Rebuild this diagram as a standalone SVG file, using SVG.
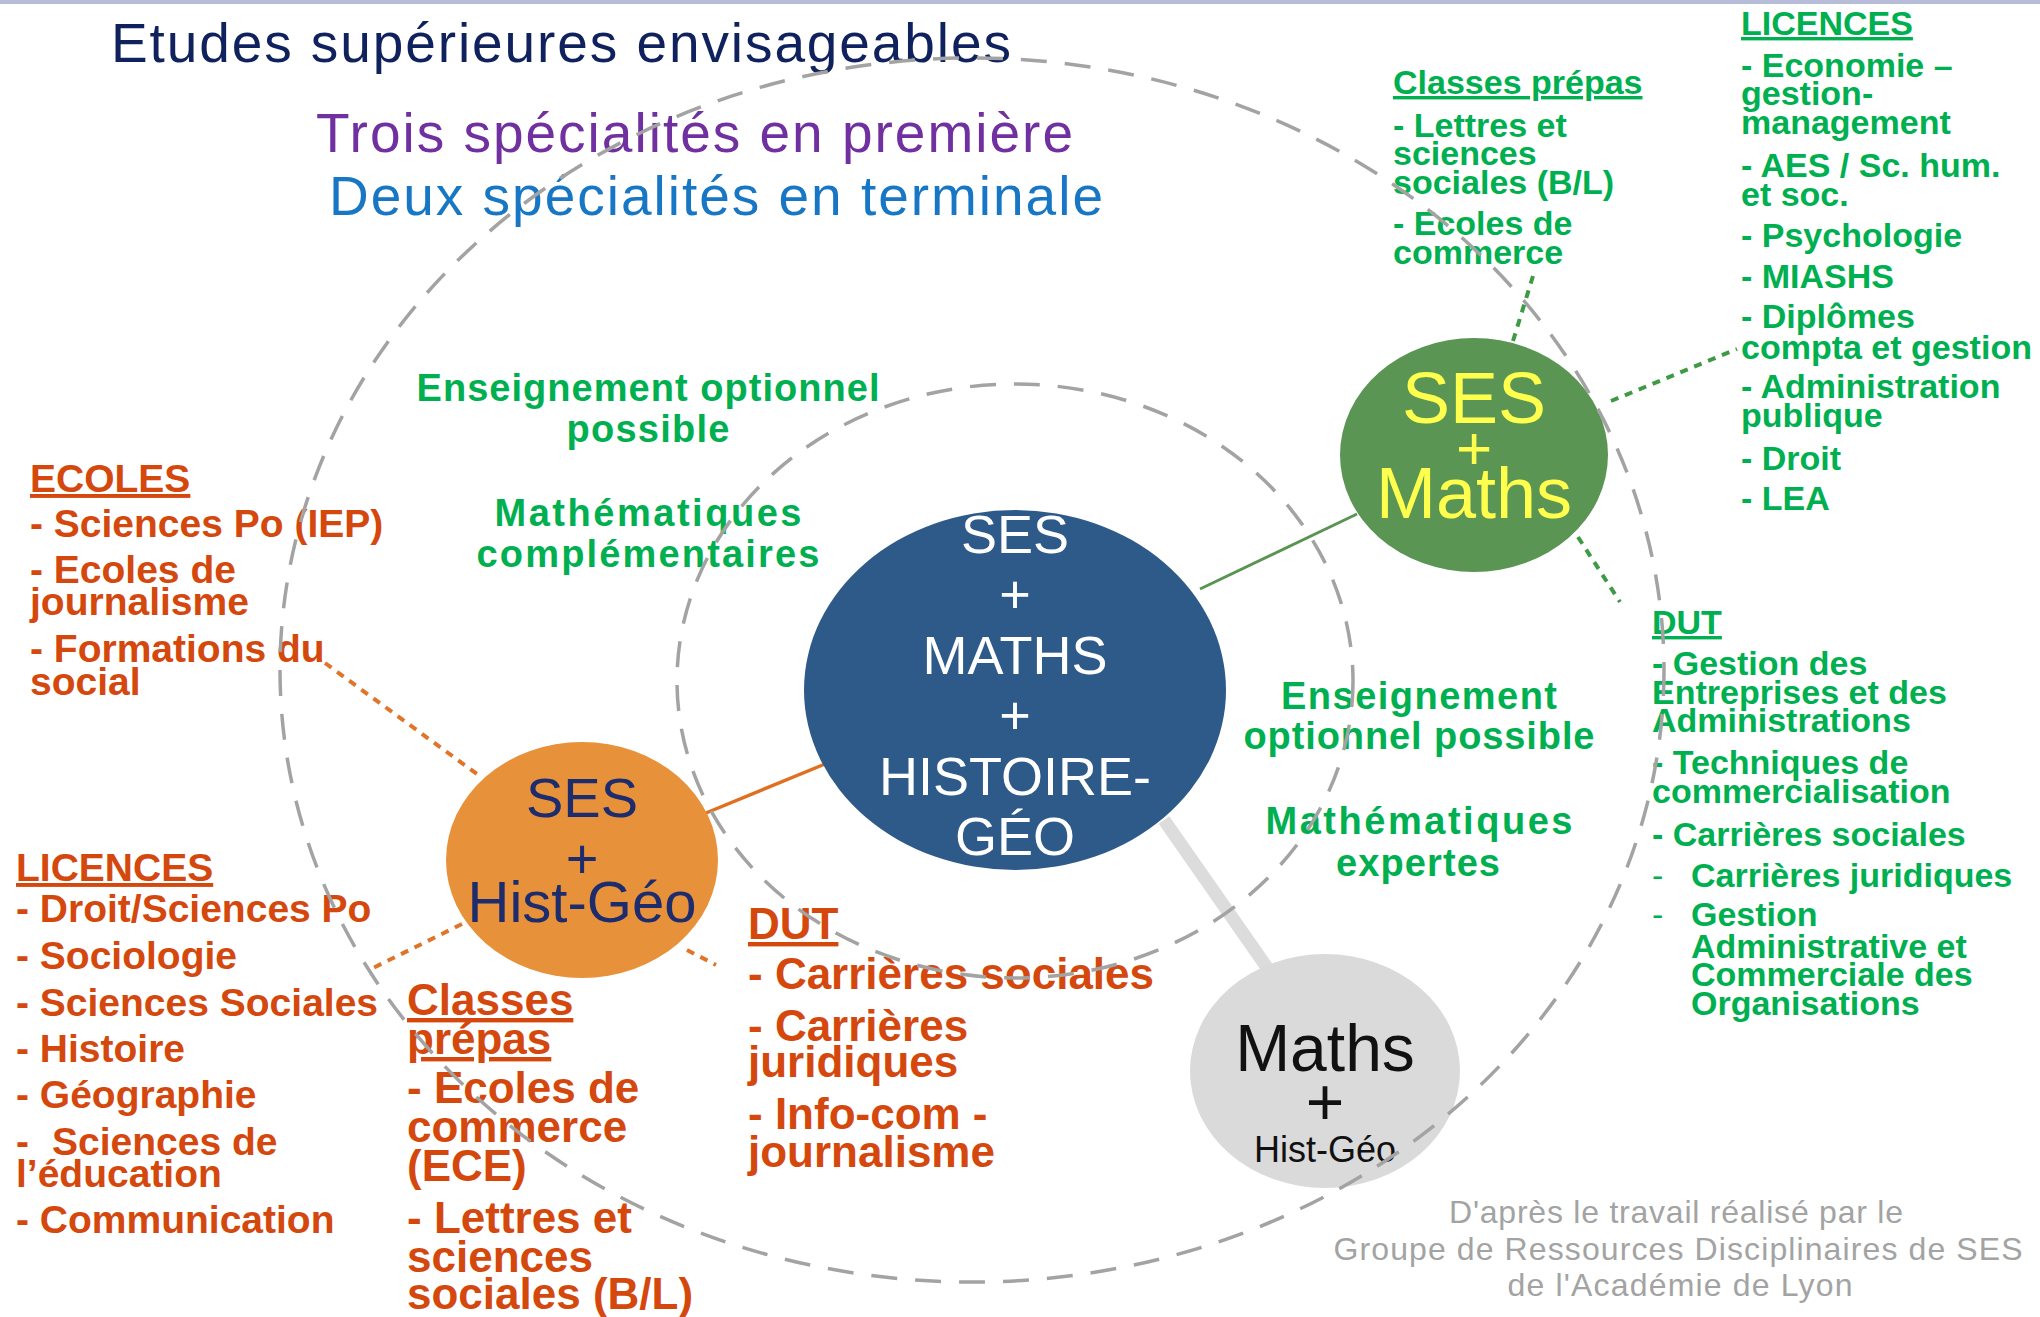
<svg xmlns="http://www.w3.org/2000/svg" width="2040" height="1317" viewBox="0 0 2040 1317">
<style>
text{font-family:"Liberation Sans",Arial,sans-serif}
.gl{font-weight:bold;font-size:34px;fill:#00b050}
.gc{font-weight:bold;font-size:38px;fill:#00b050;text-anchor:middle}
.ol{font-weight:bold;font-size:39px;fill:#d4480e}
.ob{font-weight:bold;font-size:44px;fill:#d4480e}
.u{text-decoration:underline}
.ft{font-size:32px;fill:#a3a3a3;text-anchor:middle}
.nd{text-anchor:middle}
.dash{fill:none;stroke:#a3a3a3;stroke-width:3.5;stroke-dasharray:26 18}
.dotg{stroke:#3f9a45;stroke-width:4;stroke-dasharray:8 7;fill:none}
.doto{stroke:#e0742a;stroke-width:4;stroke-dasharray:8 7;fill:none}
</style>
<rect x="0" y="0" width="2040" height="4" fill="#b7bcd8"/>

<g id="titles">
<text x="111" y="62" font-size="55" fill="#10225e" textLength="900">Etudes supérieures envisageables</text>
<text x="316" y="152" font-size="55" fill="#7030a0" textLength="757">Trois spécialités en première</text>
<text x="329" y="215" font-size="55" fill="#1877c4" textLength="774">Deux spécialités en terminale</text>
</g>

<g id="connectors">
<line x1="1200" y1="589" x2="1357" y2="514" stroke="#5a9452" stroke-width="3"/>
<line x1="825" y1="764" x2="706" y2="813" stroke="#e07020" stroke-width="3.5"/>
<line x1="1164" y1="820" x2="1268" y2="969" stroke="#dcdcdc" stroke-width="13"/>
<line class="dotg" x1="1513" y1="341" x2="1533" y2="276"/>
<line class="dotg" x1="1611" y1="401" x2="1737" y2="349"/>
<line class="dotg" x1="1578" y1="537" x2="1620" y2="602"/>
<line class="doto" x1="325" y1="663" x2="481" y2="777"/>
<line class="doto" x1="462" y1="924" x2="371" y2="969"/>
<line class="doto" x1="687" y1="950" x2="716" y2="965"/>
</g>

<g id="node-ses-maths-hg">
<ellipse cx="1015" cy="690" rx="211" ry="180" fill="#2e5a8a"/>
<text class="nd" x="1015" font-size="54" fill="#ffffff"><tspan x="1015" y="553">SES</tspan><tspan x="1015" y="613">+</tspan><tspan x="1015" y="674">MATHS</tspan><tspan x="1015" y="734">+</tspan><tspan x="1015" y="795">HISTOIRE-</tspan><tspan x="1015" y="855">GÉO</tspan></text>
</g>

<g id="node-ses-maths">
<ellipse cx="1474" cy="455" rx="134" ry="117" fill="#5b9553"/>
<text class="nd" font-size="72" fill="#ffff4d"><tspan x="1474" y="423">SES</tspan><tspan x="1474" y="469" font-size="62">+</tspan><tspan x="1474" y="518">Maths</tspan></text>
</g>

<g id="node-ses-hg">
<ellipse cx="582" cy="860" rx="136" ry="118" fill="#e8913b"/>
<text class="nd" fill="#1c2c6c"><tspan x="582" y="817" font-size="56">SES</tspan><tspan x="582" y="878" font-size="56">+</tspan><tspan x="582" y="922" font-size="58">Hist-Géo</tspan></text>
</g>

<g id="node-maths-hg">
<ellipse cx="1325" cy="1071" rx="135" ry="117" fill="#dadada"/>
<text class="nd" fill="#111111"><tspan x="1325" y="1071" font-size="66">Maths</tspan><tspan x="1325" y="1125" font-size="66">+</tspan><tspan x="1325" y="1162" font-size="36">Hist-Géo</tspan></text>
</g>

<g id="label-options-left">
<text class="gc" x="648" y="401" textLength="463">Enseignement optionnel</text>
<text class="gc" x="648" y="442" textLength="163">possible</text>
<text class="gc" x="648" y="526" textLength="307">Mathématiques</text>
<text class="gc" x="648" y="567" textLength="343">complémentaires</text>
</g>

<g id="label-options-right">
<text class="gc" x="1419" y="709" textLength="276">Enseignement</text>
<text class="gc" x="1419" y="749" textLength="351">optionnel possible</text>
<text class="gc" x="1419" y="834" textLength="307">Mathématiques</text>
<text class="gc" x="1418" y="876" textLength="164">expertes</text>
</g>

<g id="green-prepas">
<text class="gl"><tspan class="u" x="1393" y="94">Classes prépas</tspan><tspan x="1393" y="137">- Lettres et</tspan><tspan x="1393" y="165">sciences</tspan><tspan x="1393" y="194">sociales (B/L)</tspan><tspan x="1393" y="235">- Ecoles de</tspan><tspan x="1393" y="264">commerce</tspan></text>
</g>

<g id="green-licences">
<text class="gl"><tspan class="u" x="1741" y="35">LICENCES</tspan><tspan x="1741" y="77">- Economie –</tspan><tspan x="1741" y="105">gestion-</tspan><tspan x="1741" y="134">management</tspan><tspan x="1741" y="177">- AES / Sc. hum.</tspan><tspan x="1741" y="206">et soc.</tspan><tspan x="1741" y="247">- Psychologie</tspan><tspan x="1741" y="288">- MIASHS</tspan><tspan x="1741" y="328">- Diplômes</tspan><tspan x="1741" y="359">compta et gestion</tspan><tspan x="1741" y="398">- Administration</tspan><tspan x="1741" y="427">publique</tspan><tspan x="1741" y="470">- Droit</tspan><tspan x="1741" y="510">- LEA</tspan></text>
</g>

<g id="green-dut">
<text class="gl"><tspan class="u" x="1652" y="634">DUT</tspan><tspan x="1652" y="675">- Gestion des</tspan><tspan x="1652" y="704">Entreprises et des</tspan><tspan x="1652" y="732">Administrations</tspan><tspan x="1652" y="774">- Techniques de</tspan><tspan x="1652" y="803">commercialisation</tspan><tspan x="1652" y="846">- Carrières sociales</tspan><tspan x="1652" y="887" font-weight="normal">-</tspan><tspan x="1691" y="887">Carrières juridiques</tspan><tspan x="1652" y="926" font-weight="normal">-</tspan><tspan x="1691" y="926">Gestion</tspan><tspan x="1691" y="958">Administrative et</tspan><tspan x="1691" y="986">Commerciale des</tspan><tspan x="1691" y="1015">Organisations</tspan></text>
</g>

<g id="orange-ecoles">
<text class="ol"><tspan class="u" x="30" y="492">ECOLES</tspan><tspan x="30" y="537">- Sciences Po (IEP)</tspan><tspan x="30" y="583">- Ecoles de</tspan><tspan x="30" y="615">journalisme</tspan><tspan x="30" y="662">- Formations du</tspan><tspan x="30" y="695">social</tspan></text>
</g>

<g id="orange-licences">
<text class="ol"><tspan class="u" x="16" y="881">LICENCES</tspan><tspan x="16" y="922">- Droit/Sciences Po</tspan><tspan x="16" y="969">- Sociologie</tspan><tspan x="16" y="1016">- Sciences Sociales</tspan><tspan x="16" y="1062">- Histoire</tspan><tspan x="16" y="1108">- Géographie</tspan><tspan x="16" y="1155">-</tspan><tspan x="52" y="1155">Sciences de</tspan><tspan x="16" y="1187">l’éducation</tspan><tspan x="16" y="1233">- Communication</tspan></text>
</g>

<g id="orange-prepas">
<text class="ob"><tspan class="u" x="407" y="1015">Classes</tspan><tspan class="u" x="407" y="1054">prépas</tspan><tspan x="407" y="1103">- Ecoles de</tspan><tspan x="407" y="1142">commerce</tspan><tspan x="407" y="1181">(ECE)</tspan><tspan x="407" y="1233">- Lettres et</tspan><tspan x="407" y="1272">sciences</tspan><tspan x="407" y="1309">sociales (B/L)</tspan></text>
</g>

<g id="orange-dut">
<text class="ob"><tspan class="u" x="748" y="939">DUT</tspan><tspan x="748" y="989">- Carrières sociales</tspan><tspan x="748" y="1041">- Carrières</tspan><tspan x="748" y="1077">juridiques</tspan><tspan x="748" y="1129">- Info-com -</tspan><tspan x="748" y="1167">journalisme</tspan></text>
</g>

<g id="dashed-circles">
<ellipse class="dash" cx="972" cy="670" rx="692" ry="612"/>
<ellipse class="dash" cx="1015" cy="681" rx="338" ry="297"/>
</g>

<g id="credit">
<text class="ft" x="1676" y="1223" textLength="454">D'après le travail réalisé par le</text>
<text class="ft" x="1678" y="1260" textLength="689">Groupe de Ressources Disciplinaires de SES</text>
<text class="ft" x="1680" y="1296" textLength="345">de l'Académie de Lyon</text>
</g>
</svg>
